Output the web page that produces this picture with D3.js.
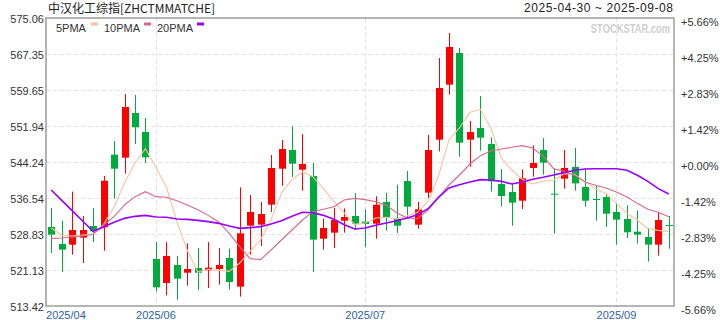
<!DOCTYPE html>
<html>
<head>
<meta charset="utf-8">
<script src="https://cdn.jsdelivr.net/npm/d3@7"></script>
<style>
  body { margin: 0; background: #fff; }
  svg { display: block; font-family: "Liberation Sans", Arial, sans-serif; }
</style>
</head>
<body>
<script>
// daily candles, 2025-04-30 .. 2025-09-08 (60 sessions shown)
const open  = [530.33,526.69,526.55,528.05,530.54,530.26,545.81,545.17,554.73,550.66,
               523.48,518.34,522.20,520.55,521.55,521.05,521.34,523.69,517.56,530.61,
               530.83,535.11,542.81,546.81,542.60,541.24,527.83,529.12,531.68,532.68,
               531.47,531.04,535.68,532.11,540.17,530.83,537.68,549.02,560.79,567.57,
               549.02,551.52,548.09,539.53,537.82,535.96,542.96,546.81,537.46,540.67,
               543.17,538.89,536.32,536.75,533.54,532.04,529.33,528.19,526.55,530.76];
const high  = [534.39,531.68,537.89,532.68,534.39,541.24,548.73,558.79,558.58,553.66,
               527.12,527.12,524.12,526.83,525.83,527.12,525.83,525.69,538.82,537.18,
               535.68,545.74,548.95,551.87,550.23,544.03,532.11,534.39,534.32,537.53,
               534.11,536.89,537.61,539.39,542.31,535.68,550.02,566.50,571.85,568.64,
               553.01,558.37,549.52,542.74,539.53,542.67,547.81,549.38,542.81,546.81,
               547.24,542.88,539.17,537.46,535.32,534.97,533.89,530.12,533.54,532.68];
const low   = [524.76,520.70,524.41,522.62,527.12,525.26,536.39,541.74,548.09,544.03,
               516.56,515.70,514.77,517.77,516.77,517.27,517.99,516.92,515.42,524.41,
               526.26,533.54,539.17,541.03,538.10,520.70,525.48,525.83,529.12,529.69,
               525.98,527.83,529.54,529.04,532.25,529.97,536.53,546.52,558.65,545.38,
               543.24,546.67,537.89,534.68,530.61,534.18,541.10,541.53,528.97,538.53,
               538.10,534.68,531.68,530.33,526.55,527.97,526.76,522.91,524.19,525.69];
const close = [528.69,525.48,529.69,529.69,529.40,540.24,542.81,556.01,551.66,545.24,
               517.41,524.12,519.27,521.34,520.55,521.62,522.20,518.56,528.97,533.54,
               533.11,542.96,547.02,543.88,543.81,527.62,530.12,531.83,532.47,531.04,
               530.97,535.11,532.40,530.61,534.68,534.11,546.81,560.08,568.85,548.38,
               550.66,549.45,540.10,536.96,535.54,540.74,544.03,544.10,537.32,542.96,
               539.67,535.96,536.18,533.18,531.90,529.19,528.69,526.55,531.83,530.61];

// moving averages
const ma5  = [530.11,528.55,528.40,528.62,528.83,530.90,534.54,539.75,544.03,547.09,
              543.10,538.89,531.54,525.33,520.70,521.27,521.05,520.84,522.62,525.12,
              527.62,531.90,537.61,540.46,542.10,541.10,538.53,535.82,533.32,530.83,
              531.19,532.25,532.40,532.04,532.75,533.47,535.82,541.24,549.02,551.52,
              554.87,555.51,551.52,545.10,542.53,540.53,539.53,540.17,540.32,541.74,
              541.60,540.03,538.46,537.53,535.39,533.25,531.83,529.97,529.61,529.40];
const ma10 = [527.90,527.97,528.19,528.40,528.76,530.76,532.54,535.04,536.82,537.89,
              536.82,536.68,535.96,535.04,534.04,532.82,531.40,528.97,526.12,523.55,
              523.34,525.40,527.55,529.69,531.83,533.61,534.11,534.68,536.11,536.46,
              536.18,535.75,534.96,533.39,532.25,532.11,533.97,536.61,539.32,541.46,
              543.81,545.60,546.59,547.02,547.38,547.74,547.24,545.50,542.81,542.24,
              541.39,539.96,539.25,538.68,537.82,536.75,535.39,534.11,533.47,532.54];
const ma20 = [538.25,536.04,533.82,531.61,529.40,530.33,531.33,532.18,532.61,532.82,
              532.47,532.40,532.04,531.97,531.75,531.47,531.11,530.54,530.04,530.19,
              530.40,530.97,531.68,532.61,533.47,533.39,532.82,531.97,530.83,529.90,
              530.11,530.69,531.19,531.68,532.25,532.97,534.25,536.68,538.67,539.39,
              539.96,540.46,540.39,540.10,539.53,539.96,540.53,540.96,541.46,541.96,
              542.46,542.74,542.81,542.81,542.81,542.46,541.39,540.10,538.53,537.39];

const priceTicks = [575.06, 567.35, 559.65, 551.94, 544.24, 536.54, 528.83, 521.13, 513.42];
const pctLabels = ["+5.66%", "+4.25%", "+2.83%", "+1.42%", "+0.00%", "-1.42%", "-2.83%", "-4.25%", "-5.66%"];
const monthIdx = [0, 10, 30, 54];
const monthLabels = ["2025/04", "2025/06", "2025/07", "2025/09"];

const maNames = ["5PMA", "10PMA", "20PMA"];
const maColors = ["#f8c2a2", "#d8688c", "#9a00ff"];

function main() {
    const W = 720, H = 320;
    const left = 46, right = 674, top = 18, bottom = 306;

    let svg = d3.select("body").append("svg")
        .attr("width", W)
        .attr("height", H);

    let x = d3.scaleBand().domain(d3.range(close.length)).range([left, right]);
    let y = d3.scaleLinear().domain([513.42, 575.06]).range([bottom, top]);
    let cx = i => x(i) + x.bandwidth() / 2;
    let bodyW = 7;

    // grid
    let grid = svg.append("g")
        .attr("stroke", "#e2e2e2")
        .attr("stroke-dasharray", "4,3");
    grid.selectAll(".hg")
        .data(priceTicks.slice(1, -1))
        .enter().append("line")
        .attr("x1", left).attr("x2", right)
        .attr("y1", d => Math.round(y(d)) + 0.5)
        .attr("y2", d => Math.round(y(d)) + 0.5);
    grid.selectAll(".vg")
        .data(monthIdx.slice(1))
        .enter().append("line")
        .attr("x1", d => Math.round(cx(d)) + 0.5)
        .attr("x2", d => Math.round(cx(d)) + 0.5)
        .attr("y1", top).attr("y2", bottom);

    // watermark (squeezed horizontally)
    svg.append("text")
        .attr("transform", "translate(670,33) scale(0.78,1)")
        .attr("text-anchor", "end")
        .style("font-size", "12px")
        .style("font-weight", "bold")
        .attr("fill", "#cfcfcf")
        .text("STOCKSTAR.com");

    // candles
    let candles = svg.append("g").selectAll("g")
        .data(close)
        .enter().append("g");

    let col = i => close[i] >= open[i] ? "#ff0000" : "#00aa3c";

    candles.append("line")
        .attr("x1", (d, i) => Math.round(cx(i)) + 0.5)
        .attr("x2", (d, i) => Math.round(cx(i)) + 0.5)
        .attr("y1", (d, i) => y(high[i]))
        .attr("y2", (d, i) => y(low[i]))
        .attr("stroke", (d, i) => col(i))
        .attr("stroke-width", 1);

    candles.append("rect")
        .attr("x", (d, i) => Math.round(cx(i)) - 3)
        .attr("width", bodyW)
        .attr("y", (d, i) => y(Math.max(open[i], close[i])))
        .attr("height", (d, i) => Math.max(1, Math.abs(y(open[i]) - y(close[i]))))
        .attr("fill", (d, i) => col(i));

    // moving averages
    let line = d3.line()
        .x((d, i) => cx(i))
        .y(d => y(d));

    [ma5, ma10, ma20].forEach(function(s, k) {
        svg.append("path")
            .datum(s)
            .attr("d", line)
            .attr("fill", "none")
            .attr("stroke", maColors[k])
            .attr("stroke-width", k == 2 ? 1.6 : 1.1);
    });

    // frame
    svg.append("rect")
        .attr("x", left).attr("y", top)
        .attr("width", right - left).attr("height", bottom - top)
        .attr("fill", "none")
        .attr("stroke", "#9c9c9c")
        .attr("stroke-width", 1.5);

    // axes
    let yLeft = svg.append("g")
        .attr("transform", `translate(${left},0)`)
        .style("font-size", "11px")
        .call(d3.axisLeft(y).tickValues(priceTicks).tickSize(0).tickPadding(2)
            .tickFormat(d3.format(".2f")));
    yLeft.select(".domain").remove();
    yLeft.selectAll("text").attr("dy", "0.42em").attr("fill", "#333");

    let yRight = svg.append("g")
        .attr("transform", `translate(${right},0)`)
        .style("font-size", "11px")
        .call(d3.axisRight(y).tickValues(priceTicks).tickSize(0).tickPadding(7)
            .tickFormat((d, i) => pctLabels[i]));
    yRight.select(".domain").remove();
    yRight.selectAll("text").attr("dy", "0.64em").attr("fill", "#333");

    let xAxis = svg.append("g")
        .attr("transform", `translate(0,${bottom})`)
        .style("font-size", "11px")
        .call(d3.axisBottom(x).tickValues(monthIdx).tickSize(0).tickPadding(5)
            .tickFormat((d, i) => monthLabels[i]));
    xAxis.select(".domain").remove();
    xAxis.selectAll("text").attr("fill", "#2f5f9e");
    xAxis.selectAll("text").filter((d, i) => i == 0)
        .attr("text-anchor", "start")
        .attr("x", -x.bandwidth() / 2);

    // title + date range
    svg.append("text")
        .attr("x", 48).attr("y", 13)
        .style("font-family", "'Noto Sans CJK SC', sans-serif")
        .style("font-size", "12px")
        .attr("fill", "#222")
        .text("中汉化工综指[ZHCTMMATCHE]");

    svg.append("text")
        .attr("x", 673).attr("y", 11.5)
        .attr("text-anchor", "end")
        .attr("textLength", 149)
        .attr("lengthAdjust", "spacing")
        .style("font-size", "12px")
        .attr("fill", "#222")
        .text("2025-04-30 ~ 2025-09-08");

    // legend
    let legX = [56, 104, 157];
    let swX = [91, 144, 197];
    maNames.forEach(function(n, k) {
        svg.append("text")
            .attr("x", legX[k]).attr("y", 31.5)
            .style("font-size", "11px")
            .attr("fill", "#333")
            .text(n);
        svg.append("rect")
            .attr("x", swX[k]).attr("y", 22.5)
            .attr("width", 7).attr("height", 3)
            .attr("fill", maColors[k]);
    });
}

main()
</script>
</body>
</html>
